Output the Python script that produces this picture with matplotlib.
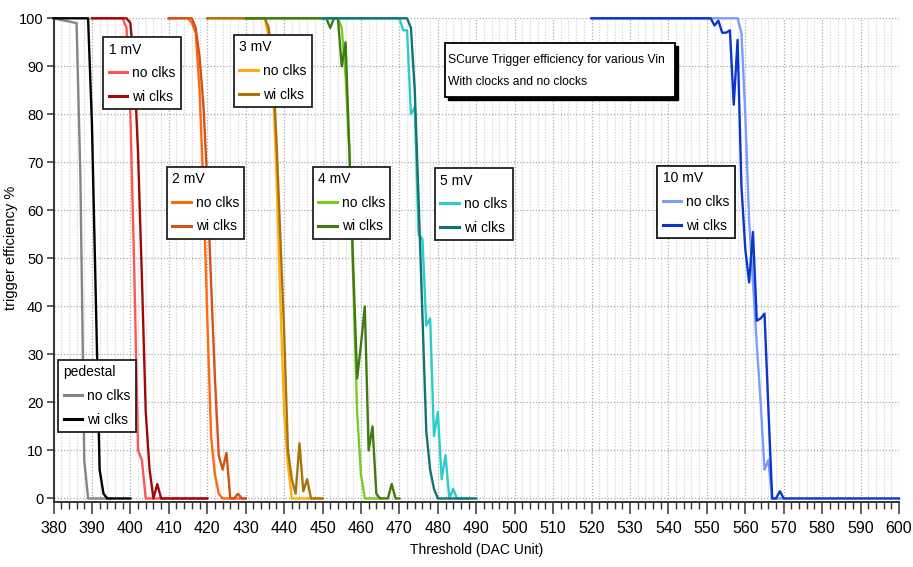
import matplotlib
matplotlib.use('Agg')
import matplotlib.pyplot as plt
from matplotlib import font_manager
from matplotlib.ticker import MultipleLocator
from matplotlib.patches import Rectangle

# ---------------- data ----------------
ped_no_x = [380, 386, 387, 388, 389, 395]
ped_no_y = [100, 99, 67, 8, 0, 0]
ped_wi_x = [380, 389, 390, 391, 392, 393, 394, 400]
ped_wi_y = [100, 100, 78, 42, 6, 1, 0, 0]

mv1_no_x = [390, 398, 399, 400, 401, 402, 403, 404, 420]
mv1_no_y = [100, 100, 98, 80, 48, 10, 8, 0, 0]
mv1_wi_x = [390, 399, 400, 401, 402, 403, 404, 405, 406, 407, 408, 420]
mv1_wi_y = [100, 100, 99, 90, 72, 46, 18, 6, 0, 3, 0, 0]

mv2_no_x = [410, 415, 416, 417, 418, 419, 420, 421, 422, 423, 424, 430]
mv2_no_y = [100, 100, 99, 97, 85, 65, 38, 13, 5, 1, 0, 0]
mv2_wi_x = [410, 416, 417, 418, 419, 420, 421, 422, 423, 424, 425, 426, 427, 428, 429, 430]
mv2_wi_y = [100, 100, 98, 92, 82, 66, 45, 25, 9, 6, 9.5, 0, 0, 1, 0, 0]

mv3_no_x = [420, 435, 436, 437, 438, 439, 440, 441, 442, 450]
mv3_no_y = [100, 100, 96, 88, 68, 42, 18, 7, 0, 0]
mv3_wi_x = [420, 435, 436, 437, 438, 439, 440, 441, 442, 443, 444, 445, 446, 447, 450]
mv3_wi_y = [100, 100, 98, 90, 75, 55, 35, 10, 4, 1, 11.5, 1.5, 4, 0, 0]

mv4_no_x = [430, 454, 455, 456, 457, 458, 459, 460, 461, 465]
mv4_no_y = [100, 100, 98, 88, 72, 45, 18, 5, 0, 0]
mv4_wi_x = [430, 451, 452, 453, 454, 455, 456, 457, 458, 459, 460, 461, 462, 463, 464, 465, 467, 468, 469, 470]
mv4_wi_y = [100, 100, 98, 100, 100, 90, 95, 72, 48, 25, 32, 40, 10, 15, 1, 0, 0, 3, 0, 0]

mv5_no_x = [450, 470, 471, 472, 473, 474, 475, 476, 477, 478, 479, 480, 481, 482, 483, 484, 485, 488]
mv5_no_y = [100, 100, 97.5, 97.5, 80, 81.5, 55, 54, 36, 37.5, 13, 18, 4, 9, 0, 2, 0, 0]
mv5_wi_x = [450, 472, 473, 474, 475, 476, 477, 478, 479, 480, 490]
mv5_wi_y = [100, 100, 98, 85, 62, 38, 14, 6, 2, 0, 0]

mv10_no_x = [520, 558, 559, 560, 561, 562, 563, 564, 565, 566, 567, 570]
mv10_no_y = [100, 100, 97, 80, 58, 45, 32, 20, 6, 8, 0, 0]
mv10_wi_x = [520, 551, 552, 553, 554, 555, 556, 557, 558, 559, 560, 561, 562, 563, 564, 565, 566, 567, 568, 569, 570, 600]
mv10_wi_y = [100, 100, 98.5, 99.5, 97, 97, 97.5, 82, 95.5, 65, 52, 45, 55.5, 37, 37.5, 38.5, 19, 0, 0, 1.5, 0, 0]

entry_labels = ['no clks', 'wi clks']
title_lines = ['SCurve Trigger efficiency for various Vin', 'With clocks and no clocks']

# ---------------- fonts ----------------
names = {f.name for f in font_manager.fontManager.ttflist}
narrow = 'Liberation Sans Narrow' in names
base = 'Liberation Sans Narrow' if narrow else 'Liberation Sans'
plt.rcParams['font.family'] = [base, 'DejaVu Sans']
if narrow:
    fs_tick, fs_ytick, fs_leg, fs_lab, fs_ylab, fs_title = 13, 12, 11, 11, 12, 10.5
else:
    fs_tick, fs_ytick, fs_leg, fs_lab, fs_ylab, fs_title = 11.5, 10.5, 10, 10, 10.5, 8.7

W, H = 913, 567
fig = plt.figure(figsize=(W / 100, H / 100), dpi=100)
ax = fig.add_axes([53.5 / W, 1 - 502.3 / H, (899 - 53.5) / W, (502.3 - 18.3) / H])

series = [
    ('pedestal', ped_no_x, ped_no_y, '#858585', ped_wi_x, ped_wi_y, '#000000', (58.3, 360)),
    ('1 mV', mv1_no_x, mv1_no_y, '#ff5555', mv1_wi_x, mv1_wi_y, '#9e0a0a', (103.3, 37.3)),
    ('2 mV', mv2_no_x, mv2_no_y, '#ff6a10', mv2_wi_x, mv2_wi_y, '#d2521a', (166.7, 166.7)),
    ('3 mV', mv3_no_x, mv3_no_y, '#ffad10', mv3_wi_x, mv3_wi_y, '#a8740a', (234, 35)),
    ('4 mV', mv4_no_x, mv4_no_y, '#77cc22', mv4_wi_x, mv4_wi_y, '#3f7a12', (312.7, 166.7)),
    ('5 mV', mv5_no_x, mv5_no_y, '#2ccccc', mv5_wi_x, mv5_wi_y, '#137373', (435, 168.3)),
    ('10 mV', mv10_no_x, mv10_no_y, '#7b9bff', mv10_wi_x, mv10_wi_y, '#0a36cc', (657.3, 166)),
]

for title, nx, ny, nc, wx, wy, wc, (lx, ly) in series:
    l1, = ax.plot(nx, ny, color=nc, lw=1.7, clip_on=False, zorder=3)
    l2, = ax.plot(wx, wy, color=wc, lw=1.7, clip_on=False, zorder=3)
    leg = ax.legend([l1, l2], entry_labels, title=title, loc='upper left',
                    bbox_to_anchor=(lx / W, 1 - ly / H), bbox_transform=fig.transFigure,
                    borderaxespad=0, frameon=True, fancybox=False, framealpha=1,
                    edgecolor='#222222', fontsize=fs_leg, title_fontsize=fs_leg,
                    alignment='left', handlelength=1.35, handletextpad=0.35,
                    borderpad=0.38, labelspacing=0.7)
    leg.get_frame().set_linewidth(1.3)
    for ln in leg.get_lines():
        ln.set_linewidth(2.2)
    leg.set_zorder(5)
    ax.add_artist(leg)

# title box with drop shadow (pixel geometry)
bx0, by0, bx1, by1 = 445, 43.3, 675, 96.7
fig.patches.append(Rectangle((bx0 / W + 3 / W, 1 - (by1 + 3) / H), (bx1 - bx0) / W,
                             (by1 - by0) / H, transform=fig.transFigure,
                             fc='black', ec='black', lw=1.0, zorder=6))
fig.patches.append(Rectangle((bx0 / W, 1 - by1 / H), (bx1 - bx0) / W, (by1 - by0) / H,
                             transform=fig.transFigure, fc='white', ec='black',
                             lw=1.3, zorder=7))
fig.text(448 / W, 1 - 60 / H, title_lines[0], ha='left', va='center',
         fontsize=fs_title, zorder=8)
fig.text(448 / W, 1 - 81.7 / H, title_lines[1], ha='left', va='center',
         fontsize=fs_title, zorder=8)

# axes
ax.set_xlim(380, 600)
ax.set_ylim(-0.8, 100)
ax.xaxis.set_major_locator(MultipleLocator(10))
ax.xaxis.set_minor_locator(MultipleLocator(2))
ax.yaxis.set_major_locator(MultipleLocator(10))
ax.grid(which='major', axis='both', color='#aaaaaa', ls=(0, (1, 1.5)), lw=0.9)
ax.grid(which='minor', axis='x', color='#cfcfcf', ls=(0, (1, 1.5)), lw=0.8)
ax.set_axisbelow(True)
for s in ['top', 'right']:
    ax.spines[s].set_visible(False)
for s in ['left', 'bottom']:
    ax.spines[s].set_color('#333333')
    ax.spines[s].set_linewidth(1.4)
ax.tick_params(axis='x', which='major', length=8.5, width=1.1, color='#333333',
               labelsize=fs_tick, pad=5)
ax.tick_params(axis='x', which='minor', length=5, width=1.0, color='#333333')
ax.tick_params(axis='y', which='major', length=5.3, width=1.1, color='#333333',
               labelsize=fs_ytick, pad=2)
ax.set_xlabel('Threshold (DAC Unit)', fontsize=fs_lab)
ax.set_ylabel('trigger efficiency %', fontsize=fs_ylab)
ax.xaxis.set_label_coords(0.5, -0.085)
ax.yaxis.set_label_coords(-0.0425, 0.525)

fig.savefig('out.png', dpi=100)
